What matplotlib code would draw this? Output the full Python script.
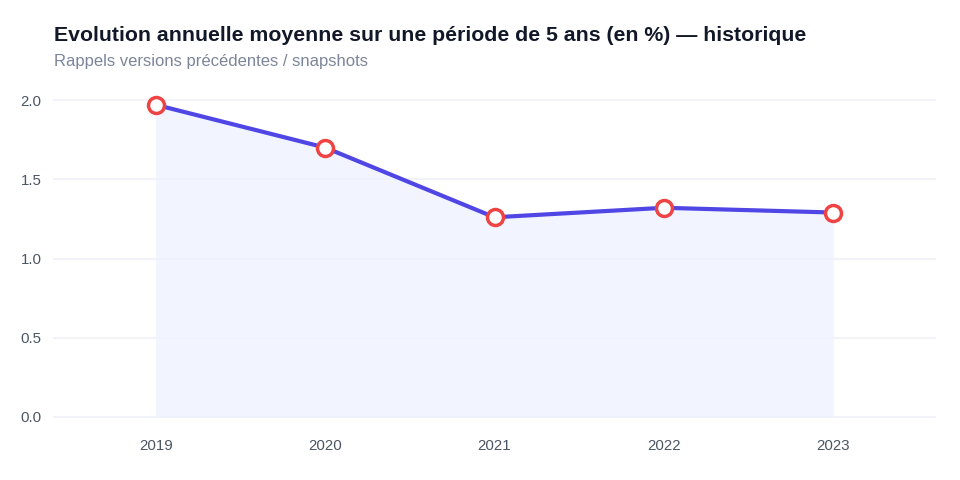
import matplotlib
matplotlib.use("Agg")
import matplotlib.pyplot as plt

plt.rcParams['font.family'] = ['Liberation Sans', 'DejaVu Sans']

# Data
years = ['2019', '2020', '2021', '2022', '2023']
values = [1.97, 1.70, 1.26, 1.32, 1.29]
y_ticks = [0.0, 0.5, 1.0, 1.5, 2.0]

title = "Evolution annuelle moyenne sur une période de 5 ans (en %) — historique"
subtitle = "Rappels versions précédentes / snapshots"

fig = plt.figure(figsize=(9.6, 4.8), dpi=100)
ax = fig.add_axes([54 / 960, 1 - 417 / 480, (935 - 54) / 960, (417 - 100) / 480])

x = list(range(len(years)))
ax.fill_between(x, values, 0, color='#eef2ff', alpha=0.75, linewidth=0, zorder=1)
ax.plot(x, values, color='#4f46e5', linewidth=3.0, zorder=3, solid_capstyle='round')
ax.plot(x, values, linestyle='none', marker='o', markersize=11.5,
        markerfacecolor='white', markeredgecolor='#ef4444', markeredgewidth=2.5,
        zorder=4, clip_on=False)

ax.set_xlim(-0.6, 4.6)
ax.set_ylim(0, 2.0)
ax.set_xticks(x)
ax.set_xticklabels(years)
ax.set_yticks(y_ticks)
ax.set_yticklabels([f"{v:.1f}" for v in y_ticks])

for v in y_ticks:
    ax.axhline(v, color='#f1f3f8', linewidth=1.5, zorder=0, clip_on=False)

for s in ax.spines.values():
    s.set_visible(False)
ax.tick_params(axis='both', length=0, colors='#4b5563', labelsize=10.8)
ax.tick_params(axis='x', pad=16)
ax.tick_params(axis='y', pad=9)

fig.text(54 / 960, 1 - 41 / 480, title, fontsize=15.3, fontweight='bold',
         color='#111827', ha='left', va='baseline')
fig.text(54 / 960, 1 - 66 / 480, subtitle, fontsize=12,
         color='#7c8599', ha='left', va='baseline')

fig.savefig('out.png', dpi=100)
